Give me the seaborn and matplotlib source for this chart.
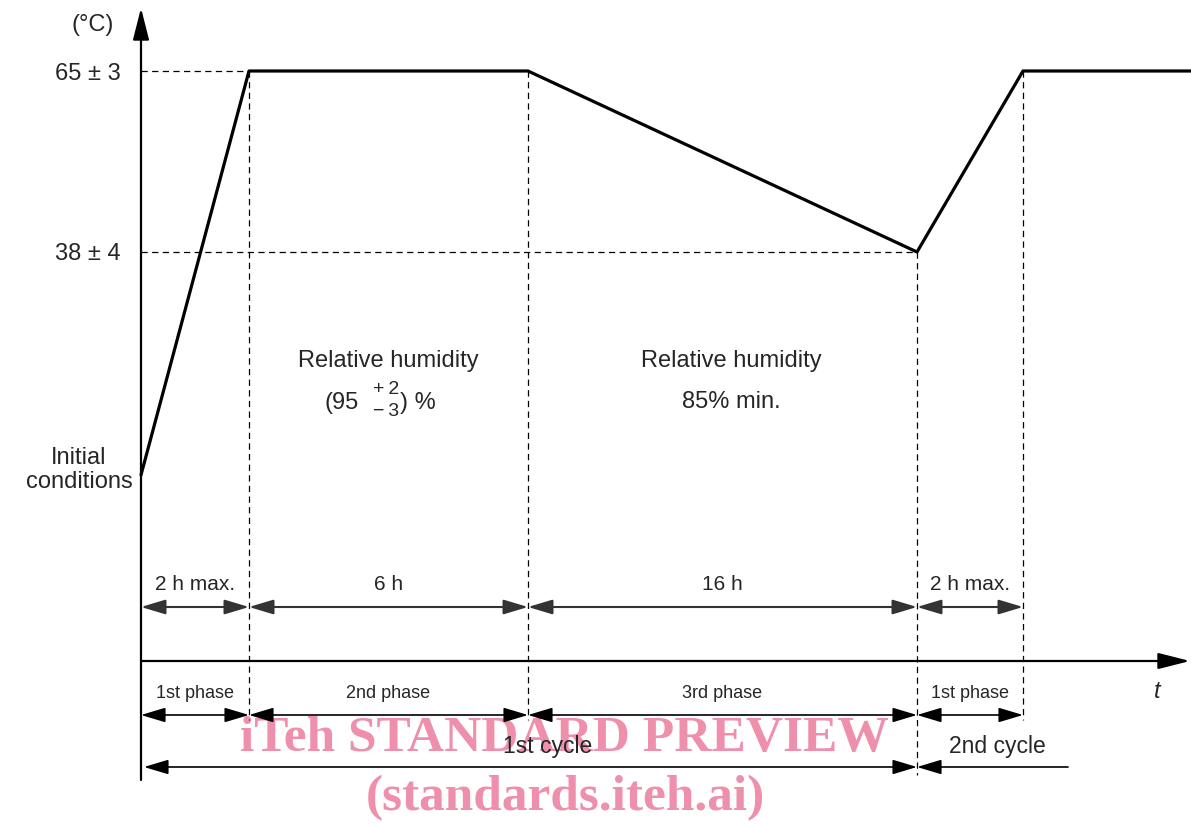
import seaborn as sns
import matplotlib
matplotlib.use('Agg')
import matplotlib.pyplot as plt
import pandas as pd

# schematic diagram, drawn in picture units (x right, y down)
x0 = 141                                  # time origin / temperature axis
t_axis_y = 661                            # time axis
edges = [141, 249, 528, 917, 1023]        # phase boundaries
prof_x = [141, 249, 528, 917, 1023, 1191]
prof_y = [475, 71, 71, 252, 71, 71]
levels_y = [71, 252]
level_labels = ['65 \u00b1 3', '38 \u00b1 4']
level_ends = [249, 917]
vline_tops = [71, 71, 252, 71]
vline_bottoms = [720, 720, 775, 720]

row_y = [607, 715]
duration_labels = ['2 h max.', '6 h', '16 h', '2 h max.']
phase_labels = ['1st phase', '2nd phase', '3rd phase', '1st phase']
cycle_y = 767
cycle_labels = ['1st cycle', '2nd cycle']
cycle_edges = [141, 917, 1068]

sns.set_style('white')
plt.rcParams['font.family'] = ['Liberation Sans', 'DejaVu Sans']

fig = plt.figure(figsize=(11.91, 8.25), dpi=100)
ax = fig.add_axes([0, 0, 1, 1])
ax.set_xlim(0, 1191)
ax.set_ylim(825, 0)
ax.axis('off')

# temperature profile
df = pd.DataFrame({'x': prof_x, 'y': prof_y})
sns.lineplot(data=df, x='x', y='y', sort=False, color='black', lw=2.3, ax=ax, zorder=4)

# axes with arrow heads
ax.annotate('', xy=(x0, 8), xytext=(x0, 780),
            arrowprops=dict(arrowstyle='-|>,head_length=1.3,head_width=0.33', mutation_scale=15,
                            color='black', lw=1.6, shrinkA=0, shrinkB=0))
ax.annotate('', xy=(1190, t_axis_y), xytext=(x0, t_axis_y),
            arrowprops=dict(arrowstyle='-|>,head_length=1.3,head_width=0.33', mutation_scale=15,
                            color='black', lw=1.6, shrinkA=0, shrinkB=0))

# dashed guide lines
dash = dict(color='black', lw=0.9, ls=(0, (5, 3.5)), zorder=2)
for yv, xe in zip(levels_y, level_ends):
    ax.plot([x0, xe], [yv, yv], **dash)
for xv, yt, yb in zip(edges[1:], vline_tops, vline_bottoms):
    ax.plot([xv, xv], [yt, yb], **dash)

# level labels
fs = 17
for yv, lab in zip(levels_y, level_labels):
    ax.text(121, yv, lab, ha='right', va='center_baseline', fontsize=fs)
ax.text(93, 22, '(\u00b0C)', ha='center', va='center_baseline', fontsize=fs)
ax.text(79, 470, 'Initial\nconditions', ha='center', va='center', fontsize=fs, linespacing=1.15)
ax.text(1157, 691, 't', ha='center', va='center', fontsize=fs, style='italic')

# humidity notes
ax.text(359, 403, '(95', ha='right', va='center', fontsize=fs)
ax.text(386, 389, '+\u20092', ha='center', va='center', fontsize=14)
ax.text(386, 411, '\u2212\u20093', ha='center', va='center', fontsize=14)
ax.text(400, 403, ') %', ha='left', va='center', fontsize=fs)
ax.text(388, 361, 'Relative humidity', ha='center', va='center', fontsize=fs)
ax.text(731, 361, 'Relative humidity', ha='center', va='center', fontsize=fs)
ax.text(731, 402, '85% min.', ha='center', va='center', fontsize=fs)


def dim(xa, xb, yv, style='<|-|>', color='black', lw=1.2):
    ax.annotate('', xy=(xb, yv), xytext=(xa, yv),
                arrowprops=dict(arrowstyle=style + ',head_length=1.0,head_width=0.3',
                                mutation_scale=15, color=color, lw=lw,
                                shrinkA=0, shrinkB=0), zorder=3)


# duration and phase dimension rows
for i in range(4):
    xa, xb = edges[i], edges[i + 1]
    dim(xa, xb, row_y[0], color='#333333', lw=1.5)
    ax.text((xa + xb) / 2, 585, duration_labels[i], ha='center', va='center', fontsize=15)
    dim(xa, xb, row_y[1])
    ax.text((xa + xb) / 2, 693, phase_labels[i], ha='center', va='center', fontsize=13)

# cycles
dim(cycle_edges[0] + 3, cycle_edges[1], cycle_y)
dim(cycle_edges[1], cycle_edges[2], cycle_y, style='<|-')
ax.text(548, 747, cycle_labels[0], ha='center', va='center', fontsize=16.5, zorder=5)
ax.text(997, 747, cycle_labels[1], ha='center', va='center', fontsize=16.5, zorder=5)

# watermark
wm = dict(ha='center', va='center', fontsize=37, fontweight='bold', color='#ee8fab',
          family='Liberation Serif', zorder=1)
ax.text(564, 739, 'iTeh STANDARD PREVIEW', **wm)
ax.text(565, 798, '(standards.iteh.ai)', **wm)

fig.savefig('out.png', dpi=100)
